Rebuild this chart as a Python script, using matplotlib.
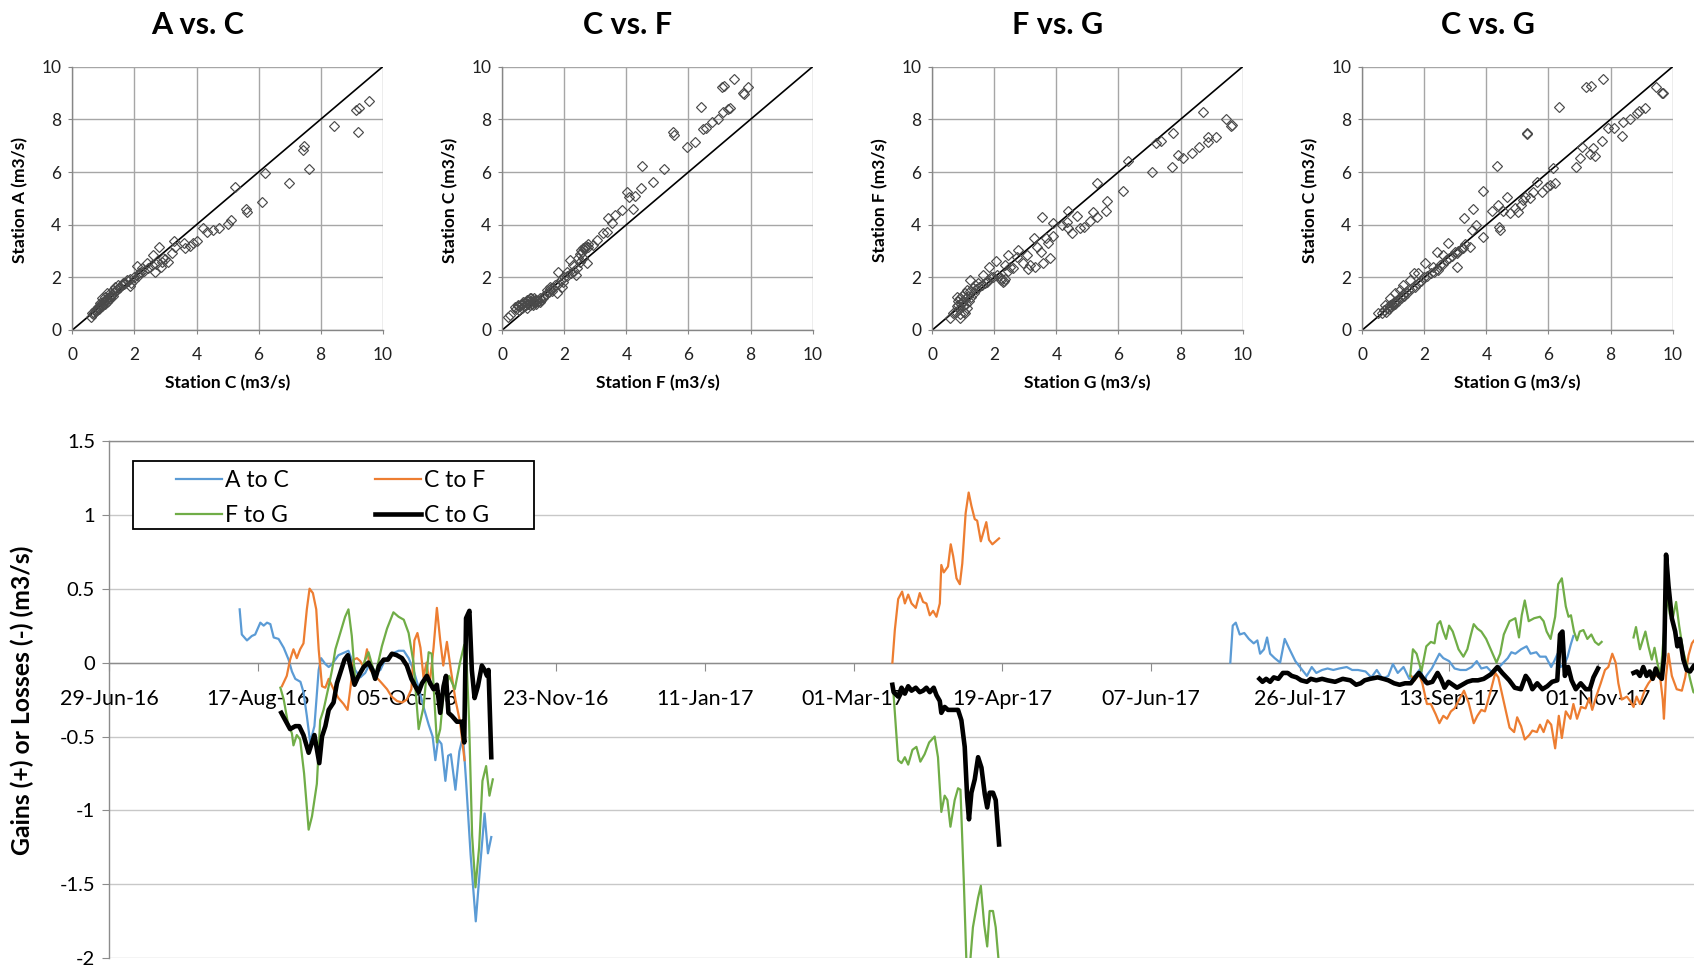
import numpy as np
import pandas as pd
import matplotlib
matplotlib.use("Agg")
import matplotlib.pyplot as plt
import matplotlib.dates as mdates
from matplotlib.ticker import FixedLocator, FuncFormatter
from matplotlib.patches import Rectangle

plt.rcParams['font.family'] = ['Lato', 'DejaVu Sans']

# ---------------- data: scatter panels ----------------
titles = ["A vs. C", "C vs. F", "F vs. G", "C vs. G"]
xlabels = ["Station C (m3/s)", "Station F (m3/s)", "Station G (m3/s)", "Station G (m3/s)"]
ylabels = ["Station A (m3/s)", "Station C (m3/s)", "Station F (m3/s)", "Station C (m3/s)"]

ac_x = [9.56, 9.24, 9.14, 9.22, 8.44, 7.46, 7.42, 7.64, 6.98, 6.21, 6.10, 5.59, 5.64, 5.24, 5.11, 5.03,
        4.73, 4.54, 4.35, 4.20, 4.01, 3.90, 3.79, 3.63, 3.60, 3.28, 3.31, 3.20, 3.09, 2.80, 2.93, 2.85,
        2.59, 2.66, 2.40, 2.23, 2.07, 2.16, 1.97, 1.86, 1.75, 1.64, 1.48, 1.37, 1.32, 1.21, 1.11, 1.05,
        0.95, 0.89, 0.84, 0.73, 0.62, 0.59,
        0.65, 0.70, 0.75, 0.80, 0.82, 0.85, 0.88, 0.90, 0.93, 0.95, 0.98, 1.00, 1.02, 1.05, 1.08, 1.10,
        1.12, 1.15, 1.18, 1.20, 1.25, 1.28, 1.30, 1.35, 1.40, 1.45, 1.50, 1.55, 1.60, 1.65, 1.70, 1.80,
        1.85, 1.90, 2.00, 2.10, 2.20, 2.30, 2.45, 2.55, 2.70, 2.90, 3.00]
ac_y = [8.70, 8.42, 8.35, 7.51, 7.75, 6.99, 6.84, 6.10, 5.59, 5.97, 4.85, 4.58, 4.47, 5.44, 4.18, 4.03,
        3.86, 3.80, 3.71, 3.86, 3.39, 3.32, 3.19, 3.10, 3.29, 3.39, 3.16, 2.91, 2.59, 3.16, 2.72, 2.40,
        2.85, 2.22, 2.53, 2.34, 2.43, 2.15, 1.90, 1.67, 1.90, 1.80, 1.71, 1.65, 1.52, 1.39, 1.42, 1.27,
        1.20, 1.01, 0.89, 0.76, 0.63, 0.48,
        0.60, 0.65, 0.72, 0.75, 0.85, 0.80, 0.95, 0.88, 1.00, 0.92, 1.05, 0.98, 1.10, 1.00, 1.15, 1.05,
        1.20, 1.12, 1.25, 1.20, 1.30, 1.35, 1.28, 1.45, 1.50, 1.55, 1.60, 1.62, 1.70, 1.75, 1.78, 1.85,
        1.95, 1.80, 2.00, 2.05, 2.20, 2.25, 2.35, 2.45, 2.50, 2.60, 2.70]

cf_x = [7.47, 7.07, 7.15, 7.93, 7.75, 7.79, 6.40, 7.10, 7.28, 7.34, 6.96, 6.75, 6.56, 6.48, 5.51, 5.53,
        5.94, 6.21, 4.49, 5.22, 4.87, 4.01, 4.46, 4.09, 4.27, 4.22, 3.85, 3.42, 3.63, 3.55, 3.36, 3.25,
        3.04, 2.93, 2.77, 2.66, 2.56, 2.45, 2.72, 2.29, 2.37, 2.18, 1.80, 2.07, 1.91, 1.75, 1.97, 1.54,
        1.43, 1.32, 1.21, 1.05, 0.89, 0.78, 0.68, 0.52, 0.41, 0.25, 0.19,
        0.45, 0.50, 0.55, 0.60, 0.62, 0.65, 0.70, 0.72, 0.75, 0.78, 0.80, 0.82, 0.85, 0.88, 0.90, 0.92,
        0.95, 0.98, 1.00, 1.02, 1.05, 1.08, 1.10, 1.15, 1.20, 1.25, 1.30, 1.35, 1.40, 1.50, 1.55, 1.60,
        1.65, 1.70, 1.80, 1.90, 2.00, 2.10, 2.20, 2.30, 2.40, 2.50, 2.55, 2.60, 2.65, 2.70, 2.75, 2.50, 2.60]
cf_y = [9.53, 9.22, 9.27, 9.22, 9.01, 8.96, 8.48, 8.29, 8.38, 8.42, 8.00, 7.91, 7.66, 7.62, 7.53, 7.41,
        6.96, 7.15, 6.24, 6.10, 5.63, 5.25, 5.38, 5.06, 5.09, 4.58, 4.56, 4.24, 4.37, 4.05, 3.73, 3.67,
        3.42, 3.23, 3.16, 3.10, 2.97, 2.72, 2.53, 2.47, 2.09, 2.66, 2.22, 2.22, 1.65, 1.39, 1.84, 1.65,
        1.52, 1.27, 1.20, 1.14, 1.20, 1.14, 1.08, 0.95, 0.89, 0.57, 0.51,
        0.80, 0.90, 0.75, 0.95, 0.85, 1.00, 0.90, 1.05, 0.95, 1.10, 0.85, 1.00, 1.15, 0.95, 1.05, 1.20,
        1.00, 1.10, 0.95, 1.20, 1.05, 1.15, 1.00, 1.10, 1.05, 1.15, 1.20, 1.30, 1.35, 1.45, 1.55, 1.50,
        1.60, 1.70, 1.75, 1.90, 2.00, 2.05, 2.15, 2.25, 2.35, 2.90, 3.05, 3.10, 3.15, 3.20, 3.25, 2.60, 2.75]

fg_x = [9.67, 9.62, 9.45, 9.13, 8.89, 8.89, 8.73, 8.60, 8.36, 8.09, 7.93, 7.71, 7.75, 7.37, 7.20, 7.07,
        6.32, 6.13, 5.64, 5.60, 5.30, 5.30, 5.17, 5.08, 4.89, 4.76, 4.67, 4.49, 4.36, 4.35, 4.38, 4.17,
        3.90, 3.88, 3.79, 3.74, 3.68, 3.55, 3.58, 3.50, 3.36, 3.29, 3.31, 3.15, 3.09, 3.04, 2.93, 2.77,
        2.72, 2.50, 2.45, 2.34, 2.29, 2.23, 2.04, 1.97, 1.84, 1.75, 1.64, 1.48, 1.37, 1.21, 1.11, 1.05,
        0.95, 0.89, 0.84, 0.78, 0.68, 0.57,
        0.75, 0.80, 0.82, 0.85, 0.88, 0.90, 0.92, 0.95, 0.98, 1.00, 1.02, 1.05, 1.08, 1.10, 1.12, 1.15,
        1.18, 1.20, 1.25, 1.30, 1.35, 1.40, 1.50, 1.60, 1.70, 1.80, 1.90, 2.10, 2.20, 2.30, 2.35, 2.45, 2.60]
fg_y = [7.78, 7.75, 8.00, 7.32, 7.32, 7.15, 8.29, 6.96, 6.73, 6.52, 6.65, 6.20, 7.49, 7.19, 7.11, 6.01,
        6.43, 5.29, 4.91, 4.53, 5.59, 4.28, 4.49, 4.15, 3.92, 3.86, 4.34, 3.67, 4.53, 4.11, 3.89, 3.99,
        3.57, 4.08, 2.75, 3.32, 3.48, 4.28, 2.53, 2.97, 3.16, 3.48, 2.41, 2.47, 2.30, 2.85, 2.53, 3.04,
        2.78, 2.41, 2.85, 2.47, 1.84, 1.96, 2.63, 2.03, 2.41, 1.84, 2.09, 1.77, 1.71, 1.90, 1.52, 0.63,
        1.08, 0.44, 0.95, 1.27, 0.63, 0.45,
        0.70, 0.90, 1.10, 0.80, 1.20, 0.60, 1.00, 1.30, 0.90, 1.10, 0.70, 1.40, 1.00, 1.20, 0.85, 1.30,
        1.10, 1.50, 1.25, 1.60, 1.40, 1.55, 1.65, 1.70, 1.80, 1.90, 2.00, 2.10, 1.90, 1.85, 1.95, 2.25, 2.35]

cg_x = [7.77, 7.36, 7.21, 9.46, 9.68, 9.65, 9.11, 8.92, 8.84, 8.63, 8.39, 8.11, 7.93, 8.36, 7.71, 7.44,
        7.34, 7.50, 7.07, 7.01, 6.89, 6.35, 5.30, 5.32, 6.15, 6.21, 6.05, 5.94, 5.78, 5.62, 5.51, 5.40,
        5.24, 5.19, 5.13, 5.03, 4.92, 4.67, 4.76, 4.54, 4.35, 4.36, 4.17, 4.44, 4.41, 3.88, 3.90, 3.58,
        3.52, 3.68, 3.29, 3.47, 3.23, 3.04, 3.04, 2.77, 2.61, 2.40, 2.45, 2.29, 2.02, 1.80, 1.66, 1.54,
        1.32, 1.21, 1.05, 0.89, 0.73, 0.52,
        0.65, 0.70, 0.75, 0.80, 0.85, 0.88, 0.90, 0.95, 1.00, 1.02, 1.05, 1.10, 1.15, 1.20, 1.25, 1.30,
        1.35, 1.40, 1.45, 1.50, 1.60, 1.70, 1.80, 1.90, 2.00, 2.10, 2.20, 2.30, 2.40, 2.50, 2.60, 2.70,
        2.80, 2.90, 3.00, 3.10, 3.20, 3.30]
cg_y = [9.53, 9.28, 9.22, 9.22, 9.01, 8.99, 8.42, 8.32, 8.23, 8.00, 7.91, 7.66, 7.66, 7.37, 7.19, 6.90,
        6.68, 6.61, 6.96, 6.52, 6.20, 8.48, 7.49, 7.44, 6.14, 5.57, 5.51, 5.44, 5.25, 5.63, 5.25, 5.00,
        5.06, 4.94, 4.75, 4.49, 4.62, 5.06, 4.43, 4.53, 6.23, 4.75, 4.53, 3.80, 3.92, 5.29, 3.54, 4.58,
        3.80, 3.99, 4.24, 3.16, 3.10, 2.41, 2.91, 3.32, 2.85, 2.97, 2.28, 2.41, 2.53, 2.18, 2.15, 1.90,
        1.71, 1.52, 1.39, 1.20, 0.95, 0.63,
        0.65, 0.75, 0.70, 0.85, 0.80, 0.95, 0.88, 1.00, 0.95, 1.08, 1.00, 1.12, 1.10, 1.25, 1.20, 1.35,
        1.30, 1.45, 1.40, 1.55, 1.60, 1.65, 1.80, 1.85, 2.00, 2.05, 2.15, 2.20, 2.30, 2.45, 2.50, 2.65,
        2.75, 2.80, 2.95, 3.00, 3.10, 3.25]

scatter_x = [ac_x, cf_x, fg_x, cg_x]
scatter_y = [ac_y, cf_y, fg_y, cg_y]

# ---------------- data: gains / losses time series ----------------
start_date = "2016-06-29"          # day 0
series_names = ["A to C", "C to F", "F to G", "C to G"]

ac_days_1 = [43.0, 43.7, 45.4, 47.0, 48.1, 49.8, 50.9, 52.0, 53.1, 54.2, 55.8, 57.5, 59.1, 60.2, 61.3, 63.0,
             64.0, 65.1, 66.2, 67.6, 69.0, 69.8, 71.2, 72.3, 73.4, 75.5, 77.7, 78.8, 79.9, 81.0, 82.7, 84.3,
             86.0, 87.6, 89.3, 90.9, 93.1, 95.3, 97.0, 98.6, 100.2, 101.9, 103.5, 105.2, 106.5, 107.4, 108.3,
             109.4, 110.7, 111.6, 112.5, 114.0, 115.3, 116.5, 117.5, 119.0, 120.7, 122.2, 123.6, 124.7, 125.8]
ac_vals_1 = [0.36, 0.19, 0.15, 0.18, 0.19, 0.27, 0.25, 0.27, 0.26, 0.17, 0.16, 0.10, 0.02, -0.06, -0.11, -0.13,
             -0.20, -0.36, -0.54, -0.43, -0.05, 0.03, -0.01, -0.03, -0.01, 0.05, 0.07, 0.08, 0.02, -0.05, -0.10, -0.07,
             0.00, -0.07, -0.05, 0.02, 0.06, 0.08, 0.08, 0.03, -0.05, -0.17, -0.30, -0.42, -0.50, -0.66, -0.52,
             -0.55, -0.80, -0.63, -0.62, -0.86, -0.60, -0.50, -0.80, -1.30, -1.75, -1.36, -1.02, -1.29, -1.18]
ac_days_3 = [369.0, 369.8, 370.8, 372.1, 373.6, 375.1, 376.7, 377.9, 378.8, 380.1, 381.1, 382.1, 383.6, 385.4,
             386.9, 388.5, 390.4, 392.3, 394.2, 395.8, 397.3, 399.2, 401.0, 402.9, 404.8, 407.3, 409.1, 411.0,
             413.5, 415.4, 417.2, 419.1, 421.0, 422.5, 424.1, 426.0, 427.9, 429.7, 431.6, 432.8, 433.5, 435.3,
             437.8, 439.1, 441.0, 442.8, 444.7, 446.6, 448.4, 450.1, 451.6, 453.4, 455.3, 456.6, 458.4, 460.3,
             461.5, 462.8, 464.7, 466.5, 467.8, 469.7, 470.9, 472.8, 474.6, 475.6, 476.7, 477.7, 479.0, 480.0,
             481.0, 481.9]
ac_vals_3 = [0.00, 0.25, 0.27, 0.19, 0.20, 0.16, 0.13, 0.15, 0.06, 0.09, 0.17, 0.06, 0.03, 0.00,
             0.16, 0.09, 0.01, -0.04, -0.09, -0.03, -0.07, -0.05, -0.04, -0.05, -0.04, -0.03, -0.05, -0.05,
             -0.06, -0.10, -0.05, -0.11, -0.09, -0.01, -0.07, -0.03, -0.11, -0.09, -0.04, -0.14, -0.09, -0.04,
             0.06, 0.03, 0.01, -0.04, -0.05, -0.05, -0.03, 0.01, -0.04, -0.03, -0.07, -0.05, -0.01, 0.03,
             0.07, 0.06, 0.09, 0.11, 0.06, 0.07, 0.04, 0.04, -0.03, 0.01, 0.06, -0.03, -0.01, 0.04,
             0.12, 0.18]

cf_days_1 = [56.9, 58.5, 59.6, 60.7, 61.8, 62.9, 64.0, 65.1, 66.0, 67.1, 68.2, 69.0, 70.1, 71.2, 72.3, 73.9,
             75.5, 77.2, 78.5, 79.4, 80.5, 81.6, 82.7, 83.8, 84.9, 86.0, 87.6, 89.8, 91.5, 93.0, 94.8, 96.5,
             98.0, 99.5, 100.5, 101.5, 102.5, 103.5, 104.5, 105.5, 106.8, 107.9, 109.0, 110.0, 111.2, 112.5,
             114.0, 115.5, 117.0]
cf_vals_1 = [-0.16, -0.09, 0.02, 0.09, 0.03, 0.09, 0.13, 0.36, 0.50, 0.47, 0.36, 0.09, -0.16, -0.17, -0.11, -0.18,
             -0.24, -0.28, -0.32, -0.18, 0.02, 0.03, 0.01, -0.03, 0.09, -0.05, -0.09, -0.14, -0.18, -0.23, -0.26, -0.27,
             -0.25, -0.18, 0.15, 0.20, 0.10, -0.10, 0.00, -0.15, 0.10, 0.37, 0.15, -0.02, 0.14, -0.05,
             -0.25, -0.40, -0.66]
cf_days_2 = [257.8, 258.6, 259.7, 261.0, 261.9, 263.0, 264.1, 265.5, 266.8, 267.9, 269.0, 270.1, 271.2, 272.3,
             273.4, 273.9, 274.7, 276.1, 277.0, 277.8, 278.9, 280.0, 280.8, 281.9, 282.9, 283.8, 284.9, 285.7,
             286.9, 288.0, 288.7, 289.6, 290.7, 291.8, 292.9]
cf_vals_2 = [0.00, 0.22, 0.43, 0.48, 0.40, 0.46, 0.40, 0.37, 0.47, 0.41, 0.40, 0.32, 0.35, 0.31,
             0.40, 0.66, 0.61, 0.65, 0.80, 0.72, 0.57, 0.53, 0.67, 1.01, 1.15, 1.06, 0.97, 0.96,
             0.82, 0.90, 0.95, 0.83, 0.80, 0.82, 0.84]
cf_days_3 = [428.5, 429.7, 431.0, 432.2, 433.7, 435.0, 436.6, 437.8, 439.1, 440.3, 441.6, 442.8, 444.3, 445.9,
             447.4, 449.1, 450.3, 451.6, 452.8, 454.7, 456.2, 457.2, 458.4, 459.7, 460.9, 462.4, 463.4, 464.7,
             465.9, 467.4, 468.4, 469.9, 470.9, 472.1, 473.4, 474.6, 475.9, 477.1, 478.1, 479.4, 480.9, 481.9,
             483.1, 484.4, 485.9, 487.1, 488.1, 489.4, 490.9, 492.3, 493.4, 494.7, 495.8, 496.7, 497.8, 499.5,
             500.6, 501.7, 502.7, 503.8, 505.5, 506.6, 507.7, 509.1, 510.4, 511.3, 511.7, 512.4, 513.2, 514.3,
             515.9, 517.6, 518.7, 519.8, 520.9, 521.6, 523.0]
cf_vals_3 = [-0.09, -0.12, -0.07, -0.14, -0.28, -0.28, -0.35, -0.41, -0.36, -0.38, -0.33, -0.31, -0.25, -0.19,
             -0.27, -0.41, -0.36, -0.32, -0.33, -0.19, -0.07, -0.10, -0.21, -0.33, -0.44, -0.47, -0.37, -0.43,
             -0.52, -0.49, -0.46, -0.47, -0.42, -0.47, -0.39, -0.42, -0.58, -0.36, -0.51, -0.33, -0.38, -0.28,
             -0.38, -0.30, -0.31, -0.24, -0.32, -0.23, -0.14, -0.05, -0.03, 0.06, 0.00, -0.14, -0.25, -0.23,
             -0.26, -0.30, -0.23, -0.28, -0.18, -0.14, -0.11, -0.09, -0.09, -0.25, -0.38, -0.09, 0.06, -0.09,
             -0.18, -0.19, -0.10, 0.05, 0.13, 0.15, 0.16]

fg_days_1 = [56.4, 57.5, 58.8, 60.2, 60.7, 61.8, 62.9, 64.2, 65.7, 66.8, 68.4, 69.5, 70.6, 72.3, 73.4, 74.5,
             76.1, 77.7, 78.8, 79.9, 81.0, 82.6, 84.3, 85.4, 86.5, 87.6, 89.8, 91.5, 93.6, 95.3, 97.0, 98.6,
             100.2, 101.9, 103.5, 105.2, 106.2, 107.9, 109.0, 110.0, 111.9, 113.8, 115.5, 116.9, 117.5, 118.5,
             119.5, 120.6, 121.8, 122.9, 124.1, 125.2, 126.3]
fg_vals_1 = [-0.17, -0.25, -0.40, -0.48, -0.56, -0.49, -0.52, -0.75, -1.13, -1.04, -0.82, -0.39, -0.32, -0.16, -0.05, 0.09,
             0.20, 0.31, 0.36, 0.18, -0.11, -0.08, 0.02, 0.07, -0.01, -0.09, 0.11, 0.23, 0.34, 0.31, 0.29, 0.20,
             0.00, -0.45, -0.30, 0.07, 0.06, -0.54, -0.45, -0.23, -0.09, -0.18, 0.00, 0.12, 0.10, -0.40,
             -1.17, -1.52, -1.25, -0.80, -0.70, -0.90, -0.79]
fg_days_2 = [258.0, 259.0, 259.7, 260.8, 261.9, 263.0, 264.4, 265.7, 267.0, 268.4, 269.9, 271.7, 272.8, 273.9,
             275.0, 275.9, 276.9, 278.3, 279.4, 280.2, 281.3, 282.2, 283.3, 284.3, 286.0, 286.9, 288.0, 289.0,
             289.8, 290.9, 291.8, 292.9]
fg_vals_2 = [-0.16, -0.45, -0.66, -0.68, -0.64, -0.69, -0.59, -0.57, -0.67, -0.62, -0.54, -0.50, -0.64, -1.01,
             -0.90, -0.93, -1.11, -0.93, -0.85, -0.86, -1.48, -2.05, -2.05, -1.79, -1.59, -1.51, -1.77, -1.92,
             -1.68, -1.68, -1.79, -2.05]
fg_days_3 = [428.2, 429.1, 430.3, 431.9, 433.5, 435.0, 436.2, 437.2, 438.1, 439.1, 440.0, 441.0, 442.2, 444.1,
             445.7, 447.0, 448.2, 449.1, 450.3, 451.6, 453.2, 454.7, 456.6, 457.8, 459.0, 460.9, 462.8, 464.0,
             464.9, 465.9, 467.2, 469.0, 470.9, 472.1, 473.1, 474.4, 475.9, 476.9, 478.1, 479.4, 480.3, 481.1,
             482.1, 483.1, 484.0, 485.2, 486.5, 487.8, 489.0, 490.2, 491.2]
fg_vals_3 = [-0.09, 0.09, 0.06, -0.06, 0.11, 0.14, 0.13, 0.26, 0.28, 0.21, 0.16, 0.25, 0.21, 0.09,
             0.04, 0.09, 0.19, 0.26, 0.23, 0.21, 0.16, 0.09, 0.00, 0.06, 0.19, 0.28, 0.30, 0.17,
             0.32, 0.42, 0.28, 0.30, 0.31, 0.28, 0.21, 0.16, 0.31, 0.53, 0.57, 0.38, 0.31, 0.32,
             0.21, 0.15, 0.21, 0.22, 0.16, 0.19, 0.14, 0.12, 0.14]
fg_days_4 = [501.7, 502.5, 503.8, 505.6, 506.6, 507.7, 508.6, 509.5, 510.6, 511.5, 512.8, 513.6, 514.5, 515.7,
             516.7, 518.0, 519.3, 520.4, 521.4, 523.0]
fg_vals_4 = [0.17, 0.24, 0.09, 0.21, 0.11, 0.02, 0.10, 0.00, -0.09, 0.15, 0.45, 0.33, 0.29, 0.41,
             0.25, 0.08, -0.02, -0.12, -0.20, -0.22]

cg_days_1 = [56.7, 58.0, 59.6, 61.3, 62.6, 64.0, 65.7, 66.8, 67.6, 69.2, 70.1, 71.2, 72.3, 73.9, 75.0, 76.1,
             77.5, 78.6, 79.7, 80.8, 82.1, 83.8, 85.4, 86.7, 87.6, 88.9, 90.4, 91.8, 93.1, 94.7, 96.4, 98.0,
             99.5, 100.8, 101.9, 103.0, 104.6, 105.7, 106.8, 107.9, 109.0, 110.1, 110.9, 111.7, 112.8, 114.5,
             116.1, 116.9, 117.5, 118.6, 119.4, 120.3, 121.4, 122.7, 123.6, 124.4, 124.9, 125.8]
cg_vals_1 = [-0.34, -0.39, -0.45, -0.43, -0.43, -0.49, -0.61, -0.54, -0.49, -0.68, -0.50, -0.43, -0.32, -0.27, -0.14, -0.07,
             0.02, 0.05, -0.05, -0.15, -0.09, -0.03, 0.00, -0.05, -0.11, -0.02, 0.02, 0.02, 0.06, 0.05, 0.03, -0.02,
             -0.11, -0.16, -0.20, -0.14, -0.09, -0.14, -0.18, -0.15, -0.34, -0.16, -0.09, -0.34, -0.36, -0.40,
             -0.40, -0.54, 0.30, 0.35, -0.05, -0.24, -0.16, -0.02, -0.05, -0.09, -0.05, -0.64]
cg_days_2 = [257.8, 258.2, 259.7, 260.8, 261.9, 263.0, 264.1, 265.5, 266.8, 267.9, 269.0, 270.1, 271.4, 272.3,
             273.4, 273.9, 275.0, 276.1, 277.8, 279.4, 280.5, 281.6, 282.4, 283.0, 283.8, 284.9, 286.0, 287.1,
             288.2, 289.0, 289.8, 290.9, 291.8, 292.9]
cg_vals_2 = [-0.15, -0.20, -0.23, -0.17, -0.21, -0.16, -0.19, -0.17, -0.20, -0.19, -0.17, -0.20, -0.17, -0.22,
             -0.26, -0.34, -0.30, -0.32, -0.32, -0.32, -0.39, -0.57, -0.91, -1.06, -0.88, -0.79, -0.64, -0.71,
             -0.89, -0.98, -0.88, -0.88, -0.93, -1.23]
cg_days_3 = [378.6, 379.6, 380.8, 382.1, 383.3, 384.8, 386.3, 387.9, 389.2, 390.8, 392.3, 394.2, 395.5, 397.3,
             399.2, 401.0, 403.5, 406.0, 408.5, 410.4, 411.9, 413.2, 415.0, 417.5, 419.4, 421.0, 422.9, 424.7,
             426.5, 428.4, 429.5, 431.1, 432.2, 433.8, 435.5, 437.2, 438.3, 439.5, 440.8, 442.2, 443.6, 445.3,
             447.0, 448.7, 450.5, 452.4, 454.7, 456.9, 458.5, 460.8, 462.6, 464.6, 466.2, 467.3, 468.4, 470.0,
             471.7, 473.3, 474.9, 476.6, 477.5, 478.3, 479.1, 480.2, 481.3, 482.7, 484.3, 486.0, 487.3, 488.5,
             490.0]
cg_vals_3 = [-0.11, -0.13, -0.11, -0.13, -0.10, -0.11, -0.07, -0.07, -0.09, -0.10, -0.12, -0.13, -0.11, -0.12,
             -0.11, -0.12, -0.13, -0.11, -0.12, -0.15, -0.14, -0.12, -0.11, -0.10, -0.11, -0.12, -0.14, -0.15,
             -0.14, -0.14, -0.11, -0.07, -0.10, -0.14, -0.13, -0.07, -0.11, -0.17, -0.13, -0.15, -0.17, -0.15,
             -0.13, -0.12, -0.12, -0.11, -0.08, -0.03, -0.07, -0.12, -0.17, -0.18, -0.09, -0.12, -0.18, -0.14,
             -0.18, -0.16, -0.13, -0.12, 0.19, 0.21, -0.09, -0.03, -0.12, -0.18, -0.14, -0.18, -0.18, -0.10,
             -0.04]
cg_days_4 = [501.7, 502.8, 503.8, 504.9, 506.0, 507.0, 508.0, 509.0, 510.0, 511.0, 511.8, 512.4, 513.2, 514.3,
             515.4, 516.1, 517.0, 518.1, 519.2, 520.3, 521.6, 523.0]
cg_vals_4 = [-0.07, -0.06, -0.09, -0.03, -0.09, -0.06, -0.11, -0.04, -0.09, -0.11, 0.05, 0.73, 0.52, 0.30,
             0.21, 0.11, 0.16, 0.02, -0.05, -0.06, -0.02, -0.03]

ts_days = [[ac_days_1, ac_days_3],
           [cf_days_1, cf_days_2, cf_days_3],
           [fg_days_1, fg_days_2, fg_days_3, fg_days_4],
           [cg_days_1, cg_days_2, cg_days_3, cg_days_4]]
ts_vals = [[ac_vals_1, ac_vals_3],
           [cf_vals_1, cf_vals_2, cf_vals_3],
           [fg_vals_1, fg_vals_2, fg_vals_3, fg_vals_4],
           [cg_vals_1, cg_vals_2, cg_vals_3, cg_vals_4]]

tick_dates = ["2016-06-29", "2016-08-17", "2016-10-05", "2016-11-23", "2017-01-11", "2017-03-01",
              "2017-04-19", "2017-06-07", "2017-07-26", "2017-09-13", "2017-11-01"]
y_ticks = [-2, -1.5, -1, -0.5, 0, 0.5, 1, 1.5]

# ---------------- styling ----------------
colors = ["#5B9BD5", "#ED7D31", "#70AD47", "#000000"]
widths = [1.6, 1.6, 1.6, 3.3]

W, H = 1694, 969
fig = plt.figure(figsize=(W / 100, H / 100), dpi=100)


def fx(px):
    return px / W


def fy(py):
    return 1 - py / H


# ---------------- scatter panels ----------------
panel_left = [72.4, 502.3, 932.3, 1362.3]
pw, top_px, bot_px = 310.3, 66.7, 330.0
for i in range(4):
    x0 = panel_left[i]
    ax = fig.add_axes([fx(x0), fy(bot_px), pw / W, (bot_px - top_px) / H])
    ax.set_xlim(0, 10)
    ax.set_ylim(0, 10)
    ax.set_xticks(range(0, 11, 2))
    ax.set_yticks(range(0, 11, 2))
    ax.grid(True, color="#a6a6a6", lw=1.0)
    ax.set_axisbelow(True)
    for s in ["top", "right"]:
        ax.spines[s].set_visible(False)
    for s in ["left", "bottom"]:
        ax.spines[s].set_color("#868686")
        ax.spines[s].set_linewidth(1.0)
    ax.tick_params(axis="both", length=3, color="#868686", labelsize=12.5, labelcolor="#202020")
    ax.tick_params(axis="x", pad=9)
    ax.tick_params(axis="y", pad=5)
    ax.plot([0, 10], [0, 10], color="black", lw=1.2, zorder=2)
    ax.plot(scatter_x[i], scatter_y[i], linestyle="none", marker="D", ms=4.6,
            mfc="none", mec="#4a4a4a", mew=0.85, zorder=3)
    cx = x0 + pw / 2
    fig.text(fx(cx - 30), fy(25), titles[i], ha="center", va="center",
             fontsize=22, fontweight="bold")
    fig.text(fx(cx), fy(383), xlabels[i], ha="center", va="center",
             fontsize=12.5, fontweight="bold")
    fig.text(fx(x0 - 52), fy(200), ylabels[i], ha="center", va="center",
             rotation=90, fontsize=12.5, fontweight="bold")

# ---------------- time series panel ----------------
base = pd.Timestamp(start_date)
px_per_day = 148.9 / 49.0
span_days = 545
b_left, b_top, b_bot = 109.0, 440.8, 958.3
ax2 = fig.add_axes([fx(b_left), fy(b_bot), span_days * px_per_day / W, (b_bot - b_top) / H])
ax2.set_xlim(base, base + pd.Timedelta(days=span_days))
ax2.set_ylim(-2, 1.5)

handles = []
for k in range(4):
    xs, ys = [], []
    for dd, vv in zip(ts_days[k], ts_vals[k]):
        xs.extend(list(base + pd.to_timedelta(np.array(dd), unit="D")))
        ys.extend(vv)
        xs.append(xs[-1])
        ys.append(np.nan)
    h, = ax2.plot(xs, ys, color=colors[k], lw=widths[k], zorder=3 + (k == 3),
                  solid_joinstyle="round", label=series_names[k])
    handles.append(h)

ax2.xaxis.set_major_locator(FixedLocator([mdates.date2num(pd.Timestamp(t)) for t in tick_dates]))
ax2.xaxis.set_major_formatter(mdates.DateFormatter("%d-%b-%y"))
ax2.yaxis.set_major_locator(FixedLocator(y_ticks))
ax2.yaxis.set_major_formatter(FuncFormatter(lambda v, p: "%g" % v))
ax2.spines["bottom"].set_position(("data", 0))
for s in ["bottom", "left", "top"]:
    ax2.spines[s].set_color("#8c8c8c")
    ax2.spines[s].set_linewidth(1.0)
ax2.spines["right"].set_visible(False)
ax2.grid(True, axis="y", color="#c8c8c8", lw=1.0)
ax2.set_axisbelow(True)
ax2.tick_params(axis="x", direction="out", length=6, color="#8c8c8c", labelsize=15.5, pad=13)
ax2.tick_params(axis="y", direction="out", length=5, color="#8c8c8c", labelsize=14.5, pad=5)
ax2.xaxis.set_zorder(2.5)

fig.text(fx(22), fy(700), "Gains (+) or Losses (-) (m3/s)", rotation=90, ha="center", va="center",
         fontsize=17.8, fontweight="bold")

# legend: frame drawn as a box, entries laid out row-wise like the original
frame = Rectangle((fx(133), fy(529)), (534 - 133) / W, (529 - 461) / H, transform=fig.transFigure,
                  facecolor="white", edgecolor="black", lw=1.3, zorder=9, clip_on=False)
ax2.add_patch(frame)
order = [0, 2, 1, 3]
leg = ax2.legend([handles[j] for j in order], [series_names[j] for j in order], ncol=2,
                 loc="center left", bbox_to_anchor=(fx(176), fy(498)),
                 bbox_transform=fig.transFigure, borderaxespad=0, borderpad=0, frameon=False,
                 fontsize=16.5, handlelength=2.0, handletextpad=0.15, labelspacing=0.6,
                 columnspacing=3.75)
leg.set_zorder(10)

fig.savefig("out.png", dpi=100)
